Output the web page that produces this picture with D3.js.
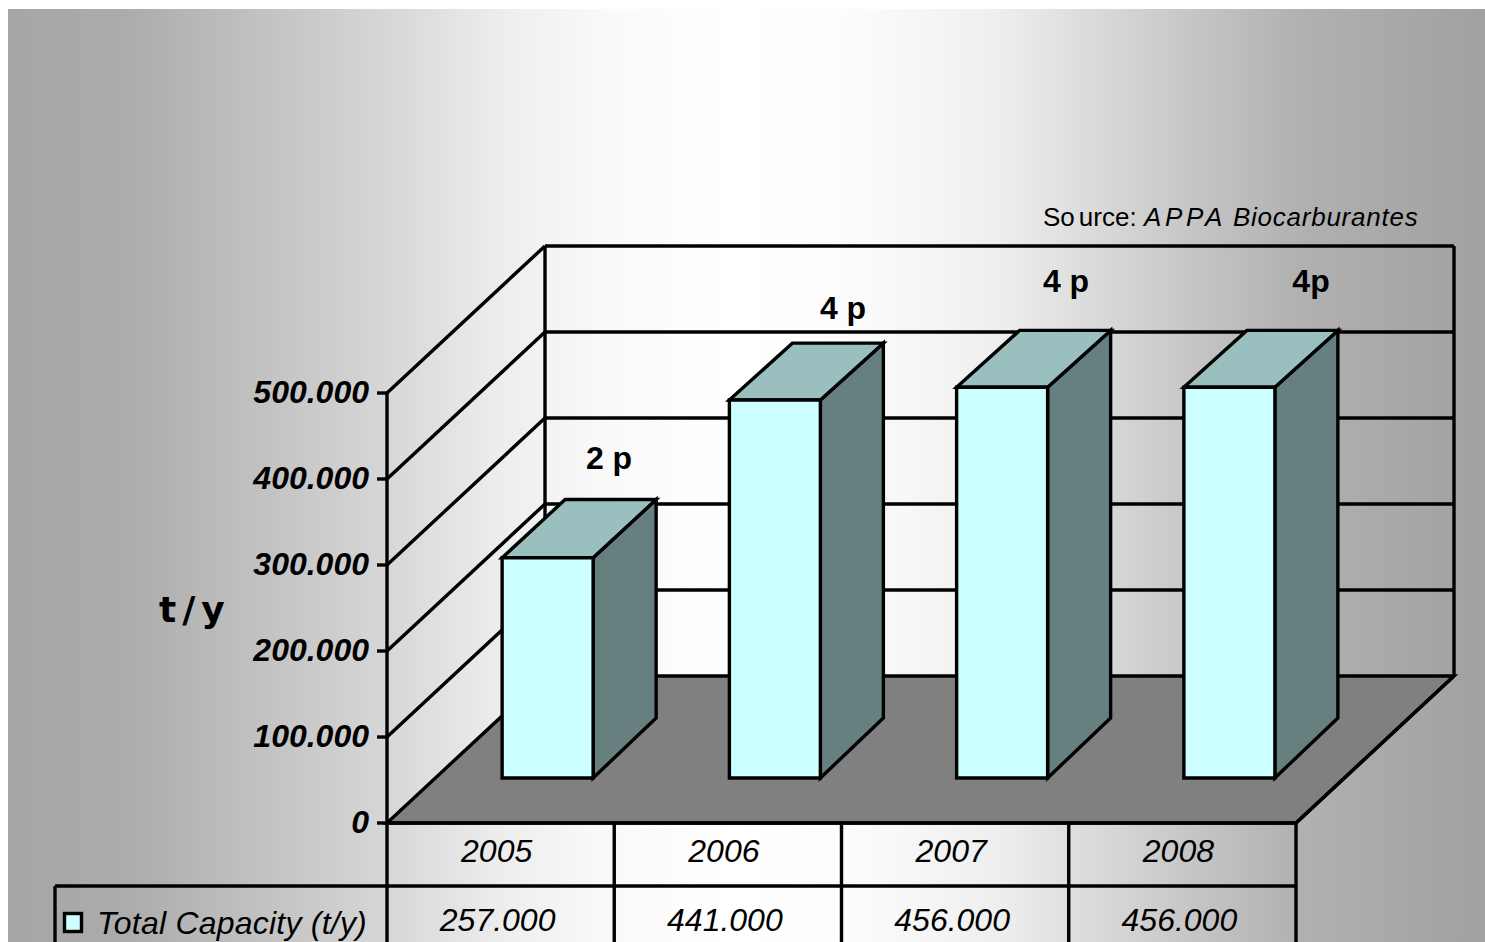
<!DOCTYPE html>
<html><head><meta charset="utf-8">
<script src="https://cdnjs.cloudflare.com/ajax/libs/d3/7.8.5/d3.min.js"></script>
<style>html,body{margin:0;padding:0;background:#fff}svg{display:block}text{font-family:"Liberation Sans",Arial,sans-serif;fill:#000}</style>
</head><body><svg id="c" width="1485" height="942"></svg>
<script>
const years = ["2005","2006","2007","2008"];
const capacity = [257000,441000,456000,456000];
const capacityLabels = ["257.000","441.000","456.000","456.000"];
const plantLabels = ["2 p","4 p","4 p","4p"];
const yTicks = [0,100000,200000,300000,400000,500000];
const seriesName = "Total Capacity (t/y)";

const svg = d3.select("#c");
const defs = svg.append("defs");
const grad = defs.append("linearGradient").attr("id","bg").attr("gradientUnits","userSpaceOnUse")
  .attr("x1",8).attr("x2",1485).attr("y1",0).attr("y2",0);
const bgStops = [[8,"#a6a6a6"],[130,"#acacac"],[200,"#b8b8b8"],[300,"#c8c8c8"],[400,"#d9d9d9"],[500,"#ededed"],[600,"#f9f9f9"],[733,"#ffffff"],[850,"#fcfcfc"],[950,"#f3f3f3"],[1000,"#eeeeee"],[1100,"#d9d9d9"],[1200,"#c4c4c4"],[1300,"#b1b1b1"],[1400,"#a8a8a8"],[1485,"#a1a1a1"]];
bgStops.forEach(s=>grad.append("stop").attr("offset",(s[0]-8)/1477).attr("stop-color",s[1]));
svg.append("rect").attr("x",8).attr("y",9).attr("width",1477).attr("height",933).attr("fill","url(#bg)");

const x = d3.scaleBand().domain(years).range([387,1296]);
const y = d3.scaleLinear().domain([0,500000]).range([823,393]);
const yBarFront = d3.scaleLinear().domain([0,500000]).range([778,349.5]); // front plane of the bars
const yBarBack = d3.scaleLinear().domain([0,500000]).range([718,293]);    // back plane of the bars
const wallDx = 158, wallDy = -147;  // oblique depth of the plot box
const barGapDx = 47;                // bar front plane offset from the front edge
const barW = 91, barDx = 63;
const LW = 3.4;
const ink = g => g.attr("stroke","#000").attr("stroke-width",LW).attr("stroke-linejoin","miter");
const line = (p,q) => svg.append("line").attr("x1",p[0]).attr("y1",p[1]).attr("x2",q[0]).attr("y2",q[1]).call(ink);
const poly = (pts,fill) => svg.append("polygon").attr("points",pts.map(d=>d.join(",")).join(" ")).attr("fill",fill).call(ink);

const x0 = x.range()[0], x1 = x.range()[1];
// floor
poly([[x0,y(0)],[x1,y(0)],[x1+wallDx,y(0)+wallDy],[x0+wallDx,y(0)+wallDy]],"#808080");
// walls & grid
yTicks.forEach(t=>{
  if(t>0){ line([x0,y(t)],[x0+wallDx,y(t)+wallDy]); line([x0+wallDx,y(t)+wallDy],[x1+wallDx,y(t)+wallDy]); }
  line([x0-10,y(t)],[x0,y(t)]);
  svg.append("text").attr("x",x0-18).attr("y",y(t)+10).attr("text-anchor","end")
    .attr("font-size",32).attr("font-weight","bold").attr("font-style","italic")
    .text(t===0?"0":d3.format(",")(t).replace(/,/g,"."));
});
line([x0+wallDx,y(500000)+wallDy],[x0+wallDx,y(0)+wallDy]);
line([x1+wallDx,y(500000)+wallDy],[x1+wallDx,y(0)+wallDy]);
line([x0,y(500000)],[x0,942]);
line([x1,y(0)],[x1,942]);
line([x1,y(0)],[x1+wallDx,y(0)+wallDy]);
line([x0,y(0)],[x1,y(0)]);

// bars
years.forEach((yr,i)=>{
  const l = x(yr)+x.bandwidth()/2+barGapDx-barW/2, r = l+barW;
  const b = yBarFront(0), t = yBarFront(capacity[i]);
  const bt = yBarBack(capacity[i]), bb = yBarBack(0);
  poly([[r,t],[r+barDx,bt],[r+barDx,bb],[r,b]],"#668080");
  poly([[l,t],[l+barDx,bt],[r+barDx,bt],[r,t]],"#99BFBF");
  poly([[l,t],[r,t],[r,b],[l,b]],"#CCFFFF");
});

// plant count labels
const plantAt = [[609,469],[843,319],[1066,292],[1311,292]];
plantLabels.forEach((s,i)=>svg.append("text").attr("x",plantAt[i][0]).attr("y",plantAt[i][1]).attr("text-anchor","middle")
  .attr("font-size",32).attr("font-weight","bold").text(s));

// source
const src = svg.append("text").attr("y",226).attr("font-size",26);
src.append("tspan").attr("x",1043).text("So");
src.append("tspan").attr("dx",4).text("urce:");
src.append("tspan").attr("x",1144).attr("font-style","italic").attr("letter-spacing",3.6).text("APPA");
src.append("tspan").attr("x",1233).attr("font-style","italic").attr("letter-spacing",0.75).text("Biocarburantes");

// axis title
svg.append("text").attr("x",159).attr("y",622).attr("font-size",36).attr("font-weight","bold")
  .attr("letter-spacing",6).style("font-family","'DejaVu Sans'").text("t/y");

// data table
const tableMid = 886;
line([55,tableMid],[x1,tableMid]);
line([55,tableMid],[55,942]);
years.forEach((yr,i)=>{
  if(i>0) line([x(yr),y(0)],[x(yr),942]);
  const cx = x(yr)+x.bandwidth()/2-4;
  svg.append("text").attr("x",cx).attr("y",862).attr("text-anchor","middle").attr("font-size",32).attr("font-style","italic").text(yr);
  svg.append("text").attr("x",cx+1).attr("y",931).attr("text-anchor","middle").attr("font-size",32).attr("font-style","italic").text(capacityLabels[i]);
});
svg.append("rect").attr("x",64.5).attr("y",913.5).attr("width",17).attr("height",18).attr("fill","#CCFFFF").call(ink);
svg.append("text").attr("x",97).attr("y",934).attr("font-size",32).attr("font-style","italic").attr("letter-spacing",0.22).text(seriesName);
</script></body></html>
